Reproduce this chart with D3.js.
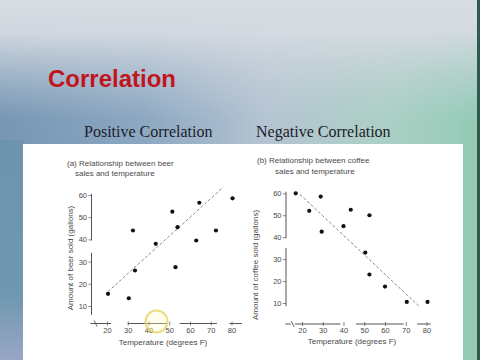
<!DOCTYPE html>
<html>
<head>
<meta charset="utf-8">
<script src="https://cdn.jsdelivr.net/npm/d3@7"></script>
<style>
  html, body { margin: 0; padding: 0; background: #fff; }
  svg { display: block; }
</style>
</head>
<body>
<svg id="chart" width="480" height="360"></svg>
<script>
// ---- Data ----
const tickValuesX = [20, 30, 40, 50, 60, 70, 80];
const tickValuesY = [10, 20, 30, 40, 50, 60];

// (a) beer sales vs temperature
const beerTemp  = [20.5, 30.5, 32.5, 33.5, 43.5, 51.5, 53, 54, 63, 64.5, 72.5, 80.5];
const beerSold  = [15.5, 13.5, 44, 26, 38, 52.5, 27.5, 45.5, 39.5, 56.5, 44, 58.5];
const beerTrendTemp = [20.5, 76];
const beerTrendSold = [16.5, 63.5];

// (b) coffee sales vs temperature
const coffeeTemp = [17, 23.5, 29, 29.5, 40, 43.5, 52.5, 50.5, 52.5, 60, 70.5, 80.5];
const coffeeSold = [60, 52, 58.5, 42.5, 45, 52.5, 50, 33, 23, 17.5, 10.5, 10.5];
const coffeeTrendTemp = [19, 77];
const coffeeTrendSold = [59.5, 8];

// broken-axis pieces (data units)
const beerXSegments   = [[12, 22], [30, 49], [55, 73], [79, 85]];
const beerYSegments   = [[39.5, 60.5], [6, 34]];
const coffeeXSegments = [[12, 14.5], [16.5, 38.5], [46, 69], [75.5, 82]];
const coffeeYSegments = [[39.5, 60.7], [8.5, 35]];

const svg = d3.select("#chart");
const defs = svg.append("defs");

// ---- Background ----
const gH = defs.append("linearGradient").attr("id", "gH").attr("x1", 0).attr("x2", 1).attr("y1", 0).attr("y2", 0);
gH.append("stop").attr("offset", "0").attr("stop-color", "#6d90b0");
gH.append("stop").attr("offset", "0.3").attr("stop-color", "#86a3bf");
gH.append("stop").attr("offset", "0.55").attr("stop-color", "#b2c2d1");
gH.append("stop").attr("offset", "0.8").attr("stop-color", "#a9cfc3");
gH.append("stop").attr("offset", "1").attr("stop-color", "#8dcab3");

const gV = defs.append("linearGradient").attr("id", "gV").attr("x1", 0).attr("x2", 0).attr("y1", 0).attr("y2", 1);
gV.append("stop").attr("offset", "0").attr("stop-color", "#d8dce3").attr("stop-opacity", 1);
gV.append("stop").attr("offset", "0.09").attr("stop-color", "#d6dbe2").attr("stop-opacity", 0.95);
gV.append("stop").attr("offset", "0.2").attr("stop-color", "#cfd6de").attr("stop-opacity", 0.55);
gV.append("stop").attr("offset", "0.33").attr("stop-color", "#c8d2dc").attr("stop-opacity", 0.1);
gV.append("stop").attr("offset", "1").attr("stop-color", "#c8d2dc").attr("stop-opacity", 0);

const gL = defs.append("linearGradient").attr("id", "gL").attr("x1", 0).attr("x2", 0).attr("y1", 0).attr("y2", 1);
gL.append("stop").attr("offset", "0").attr("stop-color", "#6e93ae");
gL.append("stop").attr("offset", "0.7").attr("stop-color", "#6f98b0");
gL.append("stop").attr("offset", "1").attr("stop-color", "#98a6c6");

svg.append("rect").attr("width", 480).attr("height", 360).attr("fill", "url(#gH)");
svg.append("rect").attr("width", 480).attr("height", 360).attr("fill", "url(#gV)");
svg.append("rect").attr("x", 0).attr("y", 140).attr("width", 24).attr("height", 220).attr("fill", "url(#gL)");
svg.append("rect").attr("x", 462).attr("y", 120).attr("width", 18).attr("height", 240).attr("fill", "#93cbb5");
svg.append("rect").attr("x", 477).attr("y", 0).attr("width", 3).attr("height", 360).attr("fill", "#2f5a4c");

// ---- Title & subtitles ----
svg.append("text").attr("x", 48).attr("y", 87)
  .attr("font-family", "Liberation Sans, Arial, sans-serif").attr("font-weight", "bold")
  .attr("font-size", 24).attr("fill", "#c2141d").text("Correlation");

svg.append("text").attr("x", 84).attr("y", 137)
  .attr("font-family", "Liberation Serif, Times New Roman, serif")
  .attr("font-size", 16).attr("fill", "#1c1c28").text("Positive Correlation");
svg.append("text").attr("x", 256).attr("y", 137)
  .attr("font-family", "Liberation Serif, Times New Roman, serif")
  .attr("font-size", 16).attr("fill", "#1c1c28").text("Negative Correlation");

// ---- White panel ----
svg.append("rect").attr("x", 23).attr("y", 144).attr("width", 440).attr("height", 216).attr("fill", "#ffffff");

// ---- Chart helper ----
const FONT = "Liberation Sans, Arial, sans-serif";
const TXT = "#4a4a4a";

function drawPanel(cfg) {
  const g = svg.append("g");
  const x = d3.scaleLinear().domain([20, 80]).range(cfg.xRange);
  const y = d3.scaleLinear().domain([10, 60]).range(cfg.yRange);

  // y axis
  const yAxis = g.append("g").attr("transform", `translate(${cfg.yAxisX},0)`)
    .call(d3.axisLeft(y).tickValues(tickValuesY).tickSize(3).tickPadding(1.5));
  yAxis.select(".domain").remove();
  yAxis.selectAll("line").attr("stroke", "#666").attr("stroke-width", 0.8);
  yAxis.selectAll("text").attr("font-family", FONT).attr("font-size", 7.5).attr("fill", TXT);
  g.selectAll(null).data(cfg.ySeg).enter().append("line")
    .attr("x1", cfg.yAxisX).attr("x2", cfg.yAxisX)
    .attr("y1", d => y(d[0])).attr("y2", d => y(d[1]))
    .attr("stroke", "#555").attr("stroke-width", 1);

  // x axis
  const xAxis = g.append("g").attr("transform", `translate(0,${cfg.xAxisY})`)
    .call(d3.axisBottom(x).tickValues(tickValuesX).tickSize(2).tickPadding(2));
  xAxis.select(".domain").remove();
  xAxis.selectAll("line").attr("stroke", "#666").attr("stroke-width", 0.8).attr("y1", -2);
  xAxis.selectAll("text").attr("font-family", FONT).attr("font-size", 7.5).attr("fill", TXT);
  g.selectAll(null).data(cfg.xSeg).enter().append("line")
    .attr("x1", d => x(d[0])).attr("x2", d => x(d[1]))
    .attr("y1", cfg.xAxisY).attr("y2", cfg.xAxisY)
    .attr("stroke", "#555").attr("stroke-width", 1);
  // axis break mark
  const bx = x(cfg.breakAt);
  g.append("line").attr("x1", bx - 1.5).attr("x2", bx + 1.5)
    .attr("y1", cfg.xAxisY - 3).attr("y2", cfg.xAxisY + 3)
    .attr("stroke", "#555").attr("stroke-width", 0.9);

  // trend line
  g.append("line")
    .attr("x1", x(cfg.trendX[0])).attr("y1", y(cfg.trendY[0]))
    .attr("x2", x(cfg.trendX[1])).attr("y2", y(cfg.trendY[1]))
    .attr("stroke", "#8a8a8a").attr("stroke-width", 1).attr("stroke-dasharray", "3,2");

  // points
  g.selectAll(null).data(cfg.xs.map((v, i) => [v, cfg.ys[i]])).enter().append("circle")
    .attr("cx", d => x(d[0])).attr("cy", d => y(d[1])).attr("r", 2.1).attr("fill", "#111");

  // captions
  g.append("text").attr("x", cfg.cap1[0]).attr("y", cfg.cap1[1])
    .attr("font-family", FONT).attr("font-size", 8).attr("fill", TXT).text(cfg.caption1);
  g.append("text").attr("x", cfg.cap2[0]).attr("y", cfg.cap2[1])
    .attr("font-family", FONT).attr("font-size", 8).attr("fill", TXT).text(cfg.caption2);

  // axis titles
  g.append("text").attr("transform", `translate(${cfg.yTitle[0]},${cfg.yTitle[1]}) rotate(-90)`)
    .attr("text-anchor", "middle").attr("font-family", FONT).attr("font-size", 8).attr("fill", TXT)
    .text(cfg.yLabel);
  g.append("text").attr("x", cfg.xTitle[0]).attr("y", cfg.xTitle[1])
    .attr("text-anchor", "middle").attr("font-family", FONT).attr("font-size", 8).attr("fill", TXT)
    .text("Temperature (degrees F)");
}

drawPanel({
  xRange: [107, 231.5], yRange: [306, 195],
  yAxisX: 91.5, xAxisY: 323.5, breakAt: 14.5,
  xSeg: beerXSegments, ySeg: beerYSegments,
  xs: beerTemp, ys: beerSold, trendX: beerTrendTemp, trendY: beerTrendSold,
  caption1: "(a) Relationship between beer", caption2: "sales and temperature",
  cap1: [67, 166], cap2: [75, 176],
  yLabel: "Amount of beer sold (gallons)", yTitle: [73, 258], xTitle: [163, 344.5]
});

drawPanel({
  xRange: [302, 426.5], yRange: [303, 193.3],
  yAxisX: 286, xAxisY: 324, breakAt: 15.5,
  xSeg: coffeeXSegments, ySeg: coffeeYSegments,
  xs: coffeeTemp, ys: coffeeSold, trendX: coffeeTrendTemp, trendY: coffeeTrendSold,
  caption1: "(b) Relationship between coffee", caption2: "sales and temperature",
  cap1: [257, 163], cap2: [275, 174],
  yLabel: "Amount of coffee sold (gallons)", yTitle: [258, 265], xTitle: [352, 344]
});

// cursor highlight ring (screen-recording artefact in the reference)
svg.append("circle").attr("cx", 156.5).attr("cy", 321.5).attr("r", 11)
  .attr("fill", "rgba(255,250,205,0.35)").attr("stroke", "rgba(228,208,90,0.75)").attr("stroke-width", 2);
</script>
</body>
</html>
